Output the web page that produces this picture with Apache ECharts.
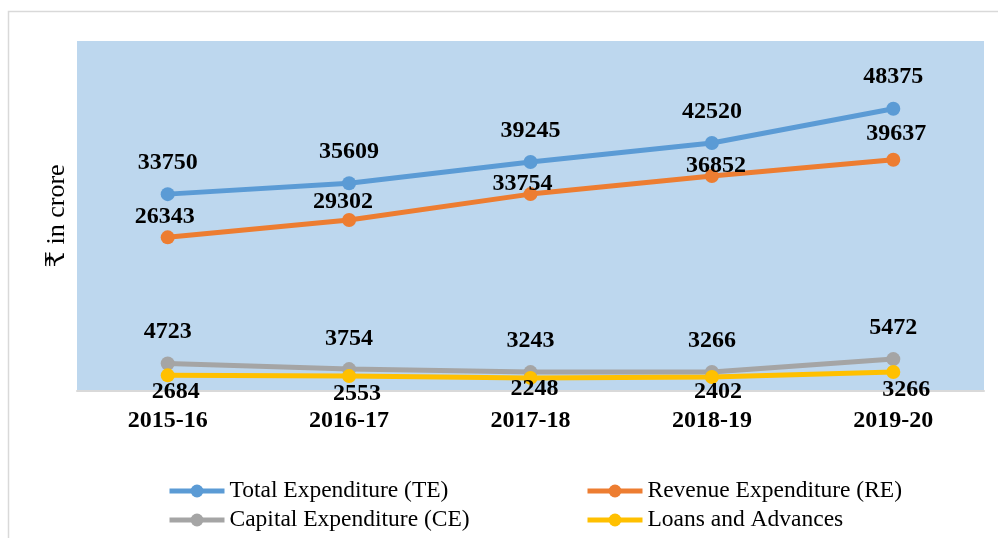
<!DOCTYPE html>
<html>
<head>
<meta charset="utf-8">
<script src="https://cdn.jsdelivr.net/npm/echarts@6/dist/echarts.min.js"></script>
<style>
  html, body { margin: 0; padding: 0; background: #fff; }
  #chart { width: 998px; height: 538px; }
</style>
</head>
<body>
<div id="chart"></div>
<script>
  // data
  var years = ['2015-16', '2016-17', '2017-18', '2018-19', '2019-20'];
  var totalExp = [33750, 35609, 39245, 42520, 48375];
  var revenueExp = [26343, 29302, 33754, 36852, 39637];
  var capitalExp = [4723, 3754, 3243, 3266, 5472];
  var loansAdv = [2684, 2553, 2248, 2402, 3266];

  // label placement (px from the point centre), like the hand-moved labels in the source
  var teLabelOff = [[0, -31], [0, -31], [0, -31], [0, -31], [0, -32]];
  var reLabelOff = [[-3, -21], [-6, -18], [-8, -10], [4, -10], [3, -26]];
  var ceLabelOff = [[0, -32], [0, -30], [0, -31], [0, -31], [0, -31]];
  var laLabelOff = [[8, 16], [8, 18], [4, 11], [6, 15], [13, 18]];

  var serif = '"Liberation Serif", "DejaVu Serif", serif';

  function withLabels(values, offsets) {
    return values.map(function (v, i) {
      return { value: v, label: { offset: offsets[i] } };
    });
  }

  function lineSeries(name, color, values, offsets) {
    return {
      name: name,
      type: 'line',
      data: withLabels(values, offsets),
      symbol: 'circle',
      symbolSize: 14,
      lineStyle: { color: color, width: 5 },
      itemStyle: { color: color },
      label: {
        show: true,
        position: 'inside',
        color: '#000',
        fontFamily: serif,
        fontWeight: 'bold',
        fontSize: 24
      },
      emphasis: { disabled: true },
      animation: false
    };
  }

  // one legend per entry so the 2x2 layout sits where the source has it
  function legendAt(name, left, top) {
    return {
      left: left, top: top, padding: 0,
      itemWidth: 55, itemHeight: 16, itemGap: 0,
      lineStyle: { width: 5 },
      textStyle: { fontFamily: serif, fontSize: 23.5, color: '#000' },
      data: [name]
    };
  }

  var chart = echarts.init(document.getElementById('chart'));
  chart.setOption({
    backgroundColor: '#fff',
    graphic: [{
      type: 'rect',
      shape: { x: 8.5, y: 11.5, width: 1100, height: 600 },
      style: { fill: 'none', stroke: '#D9D9D9', lineWidth: 1.5 },
      silent: true
    }],
    grid: {
      left: 77, right: 14, top: 41, bottom: 147,
      show: true, backgroundColor: '#BDD7EE', borderWidth: 0
    },
    legend: [
      legendAt('Total Expenditure (TE)', 167, 479),
      legendAt('Capital Expenditure (CE)', 167, 508),
      legendAt('Revenue Expenditure (RE)', 585, 479),
      legendAt('Loans and Advances', 585, 508)
    ],
    xAxis: {
      type: 'category',
      data: years,
      axisLine: { lineStyle: { color: '#D9D9D9', width: 2 } },
      axisTick: { show: false },
      axisLabel: {
        margin: 18,
        color: '#000',
        fontFamily: serif,
        fontWeight: 'bold',
        fontSize: 24
      }
    },
    yAxis: {
      type: 'value',
      min: 0,
      max: 60000,
      name: '₹ in crore',
      nameLocation: 'middle',
      nameGap: 7,
      nameTextStyle: { fontFamily: serif, fontSize: 26, color: '#000' },
      axisLine: { show: false },
      axisTick: { show: false },
      axisLabel: { show: false },
      splitLine: { show: false }
    },
    series: [
      lineSeries('Total Expenditure (TE)', '#5B9BD5', totalExp, teLabelOff),
      lineSeries('Revenue Expenditure (RE)', '#ED7D31', revenueExp, reLabelOff),
      lineSeries('Capital Expenditure (CE)', '#A5A5A5', capitalExp, ceLabelOff),
      lineSeries('Loans and Advances', '#FFC000', loansAdv, laLabelOff)
    ]
  });
</script>
</body>
</html>
